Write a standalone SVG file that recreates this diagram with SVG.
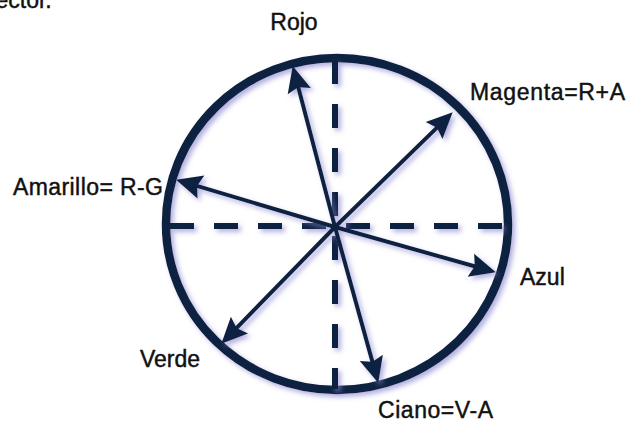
<svg xmlns="http://www.w3.org/2000/svg" width="626" height="423" viewBox="0 0 626 423">
<style>
.ink{stroke:#11233f;fill:none}
.ring{stroke-width:8.5}
.axis{stroke-width:6;stroke-dasharray:24 20}
.vec{stroke-width:4}
.lbl{font-family:"Liberation Sans",Arial,sans-serif;font-size:23px;fill:#111;stroke:#111;stroke-width:0.45}
</style>
<defs>
<filter id="sh" x="-10%" y="-10%" width="120%" height="120%">
<feDropShadow dx="3" dy="3" stdDeviation="2.5" flood-color="#8a86d0" flood-opacity="0.65"/>
</filter>
<marker id="ah" markerUnits="userSpaceOnUse" markerWidth="32" markerHeight="32" viewBox="0 0 32 32" refX="17" refY="16" orient="auto">
<path d="M30,16 L4,4 L8,16 L4,28 Z" fill="#11233f"/>
</marker>
</defs>
<text class="lbl" x="-16" y="8" font-size="24">vector.</text>
<g id="circle" filter="url(#sh)">
<ellipse class="ink ring" cx="337" cy="224" rx="171" ry="166"/>
</g>
<g id="axes" filter="url(#sh)">
<line class="ink axis" x1="170" y1="226" x2="505" y2="226"/>
<line class="ink axis" x1="335" y1="60" x2="335" y2="389"/>
</g>
<g id="connectors" filter="url(#sh)">
<line class="ink vec" x1="335" y1="227" x2="296" y2="78.6" marker-end="url(#ah)"/>
<line class="ink vec" x1="335" y1="227" x2="443.4" y2="121.4" marker-end="url(#ah)"/>
<line class="ink vec" x1="335" y1="227" x2="188.5" y2="183.4" marker-end="url(#ah)"/>
<line class="ink vec" x1="335" y1="227" x2="483.4" y2="268.8" marker-end="url(#ah)"/>
<line class="ink vec" x1="335" y1="227" x2="230.4" y2="334.4" marker-end="url(#ah)"/>
<line class="ink vec" x1="335" y1="227" x2="374.8" y2="370.4" marker-end="url(#ah)"/>
</g>
<g id="rojo"><text class="lbl" x="294" y="30" text-anchor="middle">Rojo</text></g>
<g id="magenta"><text class="lbl" x="470" y="100" textLength="155">Magenta=R+A</text></g>
<g id="amarillo"><text class="lbl" x="13" y="195" textLength="150">Amarillo= R-G</text></g>
<g id="azul"><text class="lbl" x="520" y="285">Azul</text></g>
<g id="verde"><text class="lbl" x="140" y="367">Verde</text></g>
<g id="ciano"><text class="lbl" x="378" y="418" textLength="115">Ciano=V-A</text></g>
</svg>
